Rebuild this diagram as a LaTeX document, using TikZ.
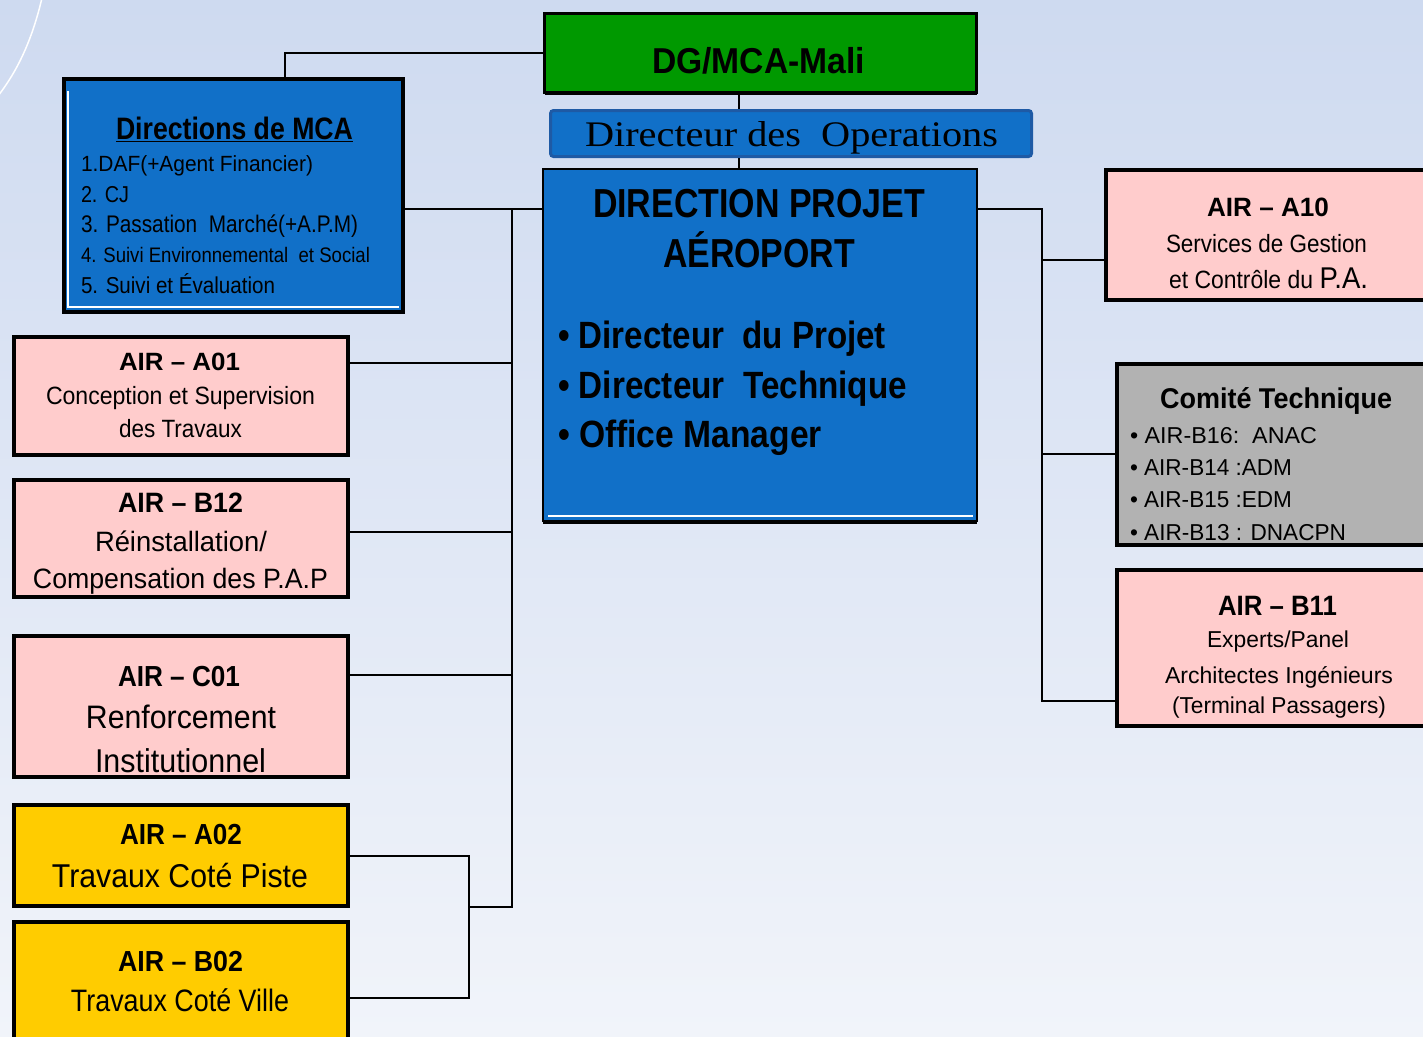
\documentclass[tikz,border=0pt]{standalone}
\usepackage{fontspec}
\setmainfont{Liberation Sans}
\newfontfamily\serifo{Liberation Serif}
\usepackage{graphicx}
\newcommand{\fw}[2]{\resizebox{#1pt}{\height}{#2}}
\newcommand{\fs}[1]{\fontsize{#1}{#1}\selectfont}
\definecolor{bgtop}{RGB}{206,218,240}
\definecolor{bgbot}{RGB}{241,244,250}
\definecolor{pinkc}{RGB}{255,204,204}
\definecolor{yellc}{RGB}{255,204,0}
\definecolor{grayc}{RGB}{178,178,178}
\definecolor{bluec}{RGB}{17,112,200}
\definecolor{blued}{RGB}{30,90,165}
\definecolor{greenc}{RGB}{0,153,0}
\begin{document}
\begin{tikzpicture}[x=1pt,y=-1pt,
  conn/.style={line width=2pt,black},
  box/.style={draw=black,line width=4pt,inner sep=0pt,outer sep=0pt},
  pinkbox/.style={box,fill=pinkc},
  yellbox/.style={box,fill=yellc},
  graybox/.style={box,fill=grayc},
  bluebox/.style={box,fill=bluec},
  txt/.style={inner sep=0pt,outer sep=0pt,anchor=base,text=black},
  txtl/.style={txt,anchor=base west}]
\clip (0,0) rectangle (1423,1036);
\fill[top color=bgtop,bottom color=bgbot] (0,0) rectangle (1423,1036);
\draw[white,line width=1.5pt] (42,-2) .. controls (32,40) and (18,70) .. (-2,96);
% coordinates for connectors
\coordinate (k285) at (285,0);
\coordinate (k739) at (739,0);
\coordinate (j209) at (512,209);
\coordinate (j907) at (512,907);
\coordinate (ta01) at (512,363);
\coordinate (tb12) at (512,532);
\coordinate (tc01) at (512,675);
\coordinate (bk) at (469,907);
\coordinate (tb02) at (469,998);
\coordinate (r209) at (1042,209);
\coordinate (r260) at (1042,260);
\coordinate (r454) at (1042,454);
\coordinate (r701) at (1042,701);
% boxes
\node[box,line width=3pt,fill=greenc,minimum width=432pt,minimum height=79pt] (dg) at (760.5,53) {};
\node[draw=blued,line width=3pt,fill=bluec,rounded corners=3pt,inner sep=0pt,minimum width=481pt,minimum height=46pt] (dops) at (791,133.5) {};
\node[box,line width=2pt,fill=bluec,minimum width=434pt,minimum height=352pt] (dp) at (760,345) {};
\node[bluebox,minimum width=339pt,minimum height=233pt] (mca) at (233.5,195.5) {};
\node[pinkbox,minimum width=334pt,minimum height=118pt] (a01) at (181,396) {};
\node[pinkbox,minimum width=334pt,minimum height=117pt] (b12) at (181,538.5) {};
\node[pinkbox,minimum width=334pt,minimum height=141pt] (c01) at (181,706.5) {};
\node[yellbox,minimum width=334pt,minimum height=101pt] (a02) at (181,855.5) {};
\node[yellbox,minimum width=334pt,minimum height=136pt] (b02) at (181,990) {};
\node[pinkbox,minimum width=332pt,minimum height=130pt] (a10) at (1272,235) {};
\node[graybox,minimum width=321pt,minimum height=181pt] (ct) at (1277.5,454.5) {};
\node[pinkbox,minimum width=321pt,minimum height=156pt] (b11) at (1277.5,648) {};
% box details
\draw[line width=3pt] ([yshift=-1pt]dg.south west) -- ([yshift=-1pt]dg.south east);
\draw[line width=4pt] ([yshift=-1pt]dp.south west) -- ([yshift=-1pt]dp.south east);
\draw[white,line width=1.5pt] ([xshift=5pt,yshift=5pt]dp.south west) -- ([xshift=-4pt,yshift=5pt]dp.south east);
\draw[white,line width=1.5pt] ([xshift=4pt,yshift=-12pt]mca.north west) -- ([xshift=4pt,yshift=5pt]mca.south west) -- ([xshift=-4pt,yshift=5pt]mca.south east);
\draw[line width=2pt] ([yshift=-1pt]mca.south west) -- ([yshift=-1pt]mca.south east);
% connectors
\draw[conn] (dg.west) -| (mca.north -| k285);
\draw[conn] (dg.south -| k739) -- (dops.north -| k739);
\draw[conn] (dops.south -| k739) -- (dp.north -| k739);
\draw[conn] (mca.east |- j209) -- (dp.west |- j209);
\draw[conn] (j209) -- (j907) -- (bk);
\draw[conn] (a01.east |- ta01) -- (ta01);
\draw[conn] (b12.east |- tb12) -- (tb12);
\draw[conn] (c01.east |- tc01) -- (tc01);
\draw[conn] (a02.east) -| (tb02) -- (b02.east |- tb02);
\draw[conn] (dp.east |- r209) -- (r209) -- (r701) -- (b11.west |- r701);
\draw[conn] (r260) -- (a10.west |- r260);
\draw[conn] (r454) -- (ct.west |- r454);
% texts
\node[txt,font=\fs{36}\bfseries] (tdg) at (758.5,73) {\fw{213}{DG/MCA-Mali}};
\node[txt,font=\fs{36}\serifo] (tdops) at (791.5,146) {\fw{413}{Directeur des\ \ Operations}};
\node[txt,font=\fs{40.5}\bfseries] (tdp1) at (759,217) {\fw{332}{DIRECTION PROJET}};
\node[txt,font=\fs{40.5}\bfseries] (tdp2) at (759,267) {\fw{192}{AÉROPORT}};
\node[txtl,font=\fs{38}\bfseries] (tdp3) at (558,348) {\fw{328}{• Directeur\ \ du Projet}};
\node[txtl,font=\fs{38}\bfseries] (tdp4) at (558,398) {\fw{349}{• Directeur\ \ Technique}};
\node[txtl,font=\fs{38}\bfseries] (tdp5) at (558,447) {\fw{264}{• Office Manager}};
\node[txt,font=\fs{31}\bfseries] (tmca) at (234.5,139) {\fw{237}{\underline{Directions de MCA}}};
\node[txtl,font=\fs{22}] (tm1) at (81,171) {\fw{232}{1.DAF(+Agent Financier)}};
\node[txtl,font=\fs{23}] (tm2) at (81,202) {\fw{48}{2. CJ}};
\node[txtl,font=\fs{24}] (tm3) at (81,232) {\fw{277}{3. Passation\ \ Marché(+A.P.M)}};
\node[txtl,font=\fs{21}] (tm4) at (81,262) {\fw{289}{4. Suivi Environnemental\ \ et Social}};
\node[txtl,font=\fs{23}] (tm5) at (81,293) {\fw{194}{5. Suivi et Évaluation}};
\node[txt,font=\fs{25}\bfseries] (ta1) at (179.5,370) {\fw{121}{AIR – A01}};
\node[txt,font=\fs{25}] (ta2) at (180.5,404) {\fw{269}{Conception et Supervision}};
\node[txt,font=\fs{25}] (ta3) at (180.5,437) {\fw{123}{des Travaux}};
\node[txt,font=\fs{28}\bfseries] (tb1) at (180.5,512) {\fw{125}{AIR – B12}};
\node[txt,font=\fs{28}] (tb2) at (181,551) {\fw{172}{Réinstallation/}};
\node[txt,font=\fs{28}] (tb3) at (180.5,588) {\fw{295}{Compensation des P.A.P}};
\node[txt,font=\fs{29}\bfseries] (tc1) at (179,686) {\fw{122}{AIR – C01}};
\node[txt,font=\fs{32.5}] (tc2) at (181,728) {\fw{190}{Renforcement}};
\node[txt,font=\fs{33}] (tc3) at (180.5,772) {\fw{171}{Institutionnel}};
\node[txt,font=\fs{29}\bfseries] (td1) at (181,844) {\fw{122}{AIR – A02}};
\node[txt,font=\fs{33}] (td2) at (180,887) {\fw{256}{Travaux Coté Piste}};
\node[txt,font=\fs{29}\bfseries] (te1) at (180.5,971) {\fw{125}{AIR – B02}};
\node[txt,font=\fs{31}] (te2) at (180,1011) {\fw{218}{Travaux Coté Ville}};
\node[txt,font=\fs{26.5}\bfseries] (tf1) at (1268,216) {\fw{122}{AIR – A10}};
\node[txt,font=\fs{25}] (tf2) at (1266.5,252) {\fw{201}{Services de Gestion}};
\node[txt,font=\fs{25}] (tf3) at (1268.5,288) {\fw{199}{et Contrôle du {\fs{30}P.A.}}};
\node[txt,font=\fs{28.6}\bfseries] (tg1) at (1276,408) {\fw{232}{Comité Technique}};
\node[txtl,font=\fs{23}] (tg2) at (1130,443) {\fw{187}{• AIR-B16:\ \ ANAC}};
\node[txtl,font=\fs{23}] (tg3) at (1130,475) {\fw{162}{• AIR-B14 :ADM}};
\node[txtl,font=\fs{23}] (tg4) at (1130,507) {\fw{162}{• AIR-B15 :EDM}};
\node[txtl,font=\fs{23}] (tg5) at (1130,540) {\fw{216}{• AIR-B13 : DNACPN}};
\node[txt,font=\fs{28}\bfseries] (th1) at (1277.5,615) {\fw{119}{AIR – B11}};
\node[txt,font=\fs{23}] (th2) at (1278,647) {\fw{142}{Experts/Panel}};
\node[txt,font=\fs{23}] (th3) at (1279,683) {\fw{228}{Architectes Ingénieurs}};
\node[txt,font=\fs{23}] (th4) at (1279,713) {\fw{214}{(Terminal Passagers)}};
\end{tikzpicture}
\end{document}
